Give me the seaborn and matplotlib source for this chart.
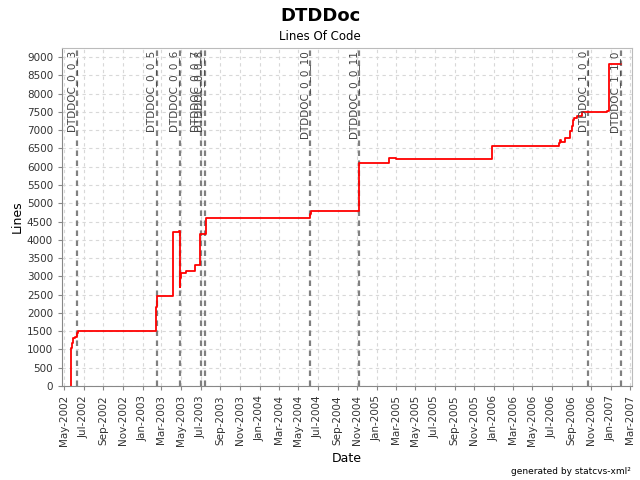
import pandas as pd
import numpy as np
import matplotlib.pyplot as plt
import matplotlib.dates as mdates
import seaborn as sns

# Lines of code over time (step chart)
dates = ['2002-05-23', '2002-05-23', '2002-05-26', '2002-05-30', '2002-06-05', '2002-06-10',
         '2002-06-14', '2003-02-12', '2003-02-15', '2003-04-07', '2003-04-26', '2003-04-28',
         '2003-04-29', '2003-05-01', '2003-05-16', '2003-06-13', '2003-06-30', '2003-07-17',
         '2004-06-06', '2004-06-09', '2004-11-07', '2005-02-07', '2005-03-02', '2005-12-25',
         '2006-07-22', '2006-07-27', '2006-07-29', '2006-08-12', '2006-08-27', '2006-09-02',
         '2006-09-06', '2006-09-09', '2006-09-17', '2006-10-02', '2006-12-21', '2006-12-25',
         '2007-02-02']
lines = [0, 1050, 1170, 1300, 1330, 1440,
         1500, 2150, 2450, 4200, 4250, 2700,
         2950, 3100, 3150, 3300, 4150, 4600,
         4700, 4800, 6100, 6250, 6200, 6580,
         6650, 6730, 6680, 6800, 6980, 7110,
         7280, 7340, 7400, 7500, 7530, 8800,
         8800]

# Version tags
tag_names = ['DTDDOC_0_0_3', 'DTDDOC_0_0_5', 'DTDDOC_0_0_6', 'DTDDOC_0_0_7', 'DTDDOC_0_0_8',
             'DTDDOC_0_0_10', 'DTDDOC_0_0_11', 'DTDDOC_1_0_0', 'DTDDOC_1_1_0']
tag_dates = ['2002-06-11', '2003-02-15', '2003-04-28', '2003-07-01', '2003-07-15',
             '2004-06-08', '2004-11-07', '2006-10-23', '2007-02-02']

df = pd.DataFrame({'Date': pd.to_datetime(dates), 'Lines': lines})

sns.set_style('white')
plt.rcParams['font.family'] = ['DejaVu Sans']
plt.rcParams['text.color'] = 'black'
plt.rcParams['axes.labelcolor'] = 'black'

fig = plt.figure(figsize=(6.4, 4.8), dpi=100)
ax = fig.add_axes([0.097, 0.196, 0.8905, 0.704])

sns.lineplot(data=df, x='Date', y='Lines', ax=ax, color='red', linewidth=1.3,
             drawstyle='steps-post', estimator=None, sort=False, zorder=2)

for name, d in zip(tag_names, pd.to_datetime(tag_dates)):
    ax.axvline(d, color='#808080', linestyle=(0, (2.5, 2)), linewidth=1.6, zorder=1)
    ax.text(d - pd.Timedelta(days=2), 9190, name, rotation=90, ha='right', va='top',
            fontsize=7.5, color='#444444', zorder=4)

ax.set_xlim(pd.Timestamp('2002-04-25'), pd.Timestamp('2007-03-08'))
ax.set_ylim(0, 9250)
ax.set_yticks(np.arange(0, 9001, 500))
ax.xaxis.set_major_locator(mdates.MonthLocator(bymonth=[1, 3, 5, 7, 9, 11]))
ax.xaxis.set_major_formatter(mdates.DateFormatter('%b-%Y'))
plt.setp(ax.get_xticklabels(), rotation=90)
ax.tick_params(axis='both', labelsize=7.5, length=3, color='#888888', labelcolor='#333333',
               direction='out')
ax.tick_params(axis='x', which='both', bottom=True)
ax.tick_params(axis='y', which='both', left=True)
ax.grid(True, color='#d8d8d8', linestyle=(0, (3, 3)), linewidth=0.8)
for s in ax.spines.values():
    s.set_color('#bbbbbb')
    s.set_linewidth(0.8)
ax.spines['left'].set_color('#888888')
ax.spines['bottom'].set_color('#888888')

ax.set_xlabel('Date', fontsize=9)
ax.set_ylabel('Lines', fontsize=9, labelpad=2)

fig.text(0.5, 0.967, 'DTDDoc', ha='center', va='center', fontsize=13, fontweight='bold')
fig.text(0.5, 0.925, 'Lines Of Code', ha='center', va='center', fontsize=8.5)
fig.text(0.985, 0.018, 'generated by statcvs-xml\u00b2', ha='right', va='center', fontsize=6.5)

plt.savefig('out.png', dpi=100)
